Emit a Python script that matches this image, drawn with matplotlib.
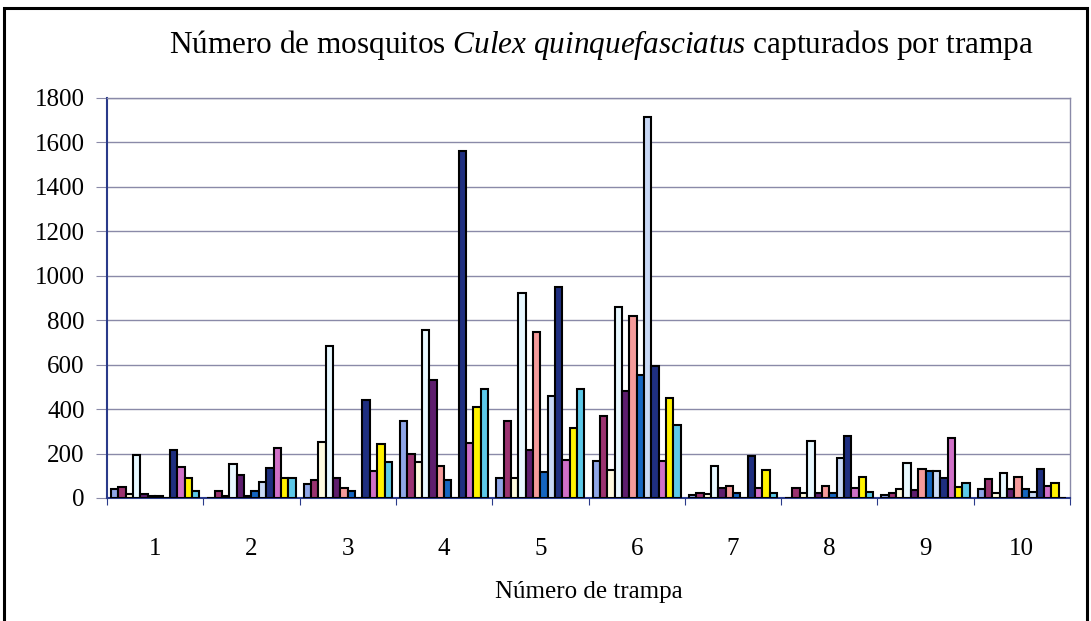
import matplotlib
matplotlib.use("Agg")
import matplotlib.pyplot as plt
import numpy as np
from matplotlib.patches import Rectangle

plt.rcParams['font.family'] = ['Liberation Serif', 'DejaVu Serif']
plt.rcParams['mathtext.fontset'] = 'custom'
plt.rcParams['mathtext.rm'] = 'Liberation Serif'
plt.rcParams['mathtext.it'] = 'Liberation Serif:italic'

traps = ["1", "2", "3", "4", "5", "6", "7", "8", "9", "10"]

s01 = [42, 0, 62, 348, 92, 166, 13, 0, 13, 40]
s02 = [50, 31, 81, 196, 346, 371, 21, 47, 24, 84]
s03 = [18, 8, 253, 164, 92, 126, 18, 24, 39, 21]
s04 = [195, 153, 685, 756, 921, 858, 146, 258, 159, 111]
s05 = [18, 105, 92, 531, 216, 481, 43, 21, 36, 39]
s06 = [9, 10, 43, 144, 749, 819, 54, 54, 129, 96]
s07 = [9, 30, 31, 81, 119, 553, 21, 24, 121, 39]
s08 = [0, 70, 0, 0, 461, 1713, 0, 178, 121, 28]
s09 = [215, 135, 441, 1563, 951, 596, 189, 281, 88, 130]
s10 = [140, 225, 121, 246, 171, 166, 43, 45, 271, 54]
s11 = [90, 90, 243, 409, 317, 452, 126, 94, 51, 69]
s12 = [30, 90, 164, 490, 490, 329, 21, 25, 66, 0]

series = [s01, s02, s03, s04, s05, s06, s07, s08, s09, s10, s11, s12]
colors = ["#8fa6e8", "#9b3370", "#fffbe0", "#e8f8ff", "#5e1e6e", "#f59a9a",
          "#1565c0", "#c8d8f5", "#1f2f80", "#d070c8", "#fff200", "#5cc8e8"]

fig = plt.figure(figsize=(10.91, 6.21), dpi=100)
ax = fig.add_axes([107/1091, 123/621, 963/1091, 400/621])

n = len(series)
w = 1.0 / (n + 1.1)
x = np.arange(len(traps))
for k, (vals, c) in enumerate(zip(series, colors)):
    ax.bar(x - n * w / 2 + (k + 0.5) * w, vals, width=w, color=c,
           edgecolor="black", linewidth=1.5, zorder=3)

ax.set_xlim(-0.5, len(traps) - 0.5)
ax.set_ylim(0, 1800)
ax.set_yticks(np.arange(0, 1801, 200))
ax.yaxis.grid(True, color="#8a8aa8", linewidth=1.0, zorder=0)
ax.set_xticks(np.arange(-0.5, len(traps), 1.0))
ax.set_xticklabels([])
ax.set_xticks(x, minor=True)
ax.set_xticklabels(traps, minor=True)
ax.tick_params(axis="x", which="major", length=5, direction="out", color="#2a3a8a")
ax.tick_params(axis="x", which="minor", length=0, pad=29, labelsize=18)
ax.tick_params(axis="y", length=8, direction="out", color="#8a8aa8", pad=8, labelsize=18)

for side in ["left", "bottom"]:
    ax.spines[side].set_color("#2a3a8a")
    ax.spines[side].set_linewidth(1.5)
for side in ["top", "right"]:
    ax.spines[side].set_color("#8a8aa8")
    ax.spines[side].set_linewidth(1.0)

ax.set_xlabel("Número de trampa", fontsize=18, labelpad=15)
fig.text(601 / 1091, 1 - 45 / 621,
         r"Número de mosquitos $\mathit{Culex\ quinquefasciatus}$ capturados por trampa",
         ha="center", va="center", fontsize=22.5)

fig.patches.append(Rectangle((4 / 1091, -0.05), 1083 / 1091, 1.05 - 8 / 621,
                             transform=fig.transFigure, fill=False,
                             edgecolor="black", linewidth=2.2))

fig.savefig("out.png", dpi=100, facecolor="white")
